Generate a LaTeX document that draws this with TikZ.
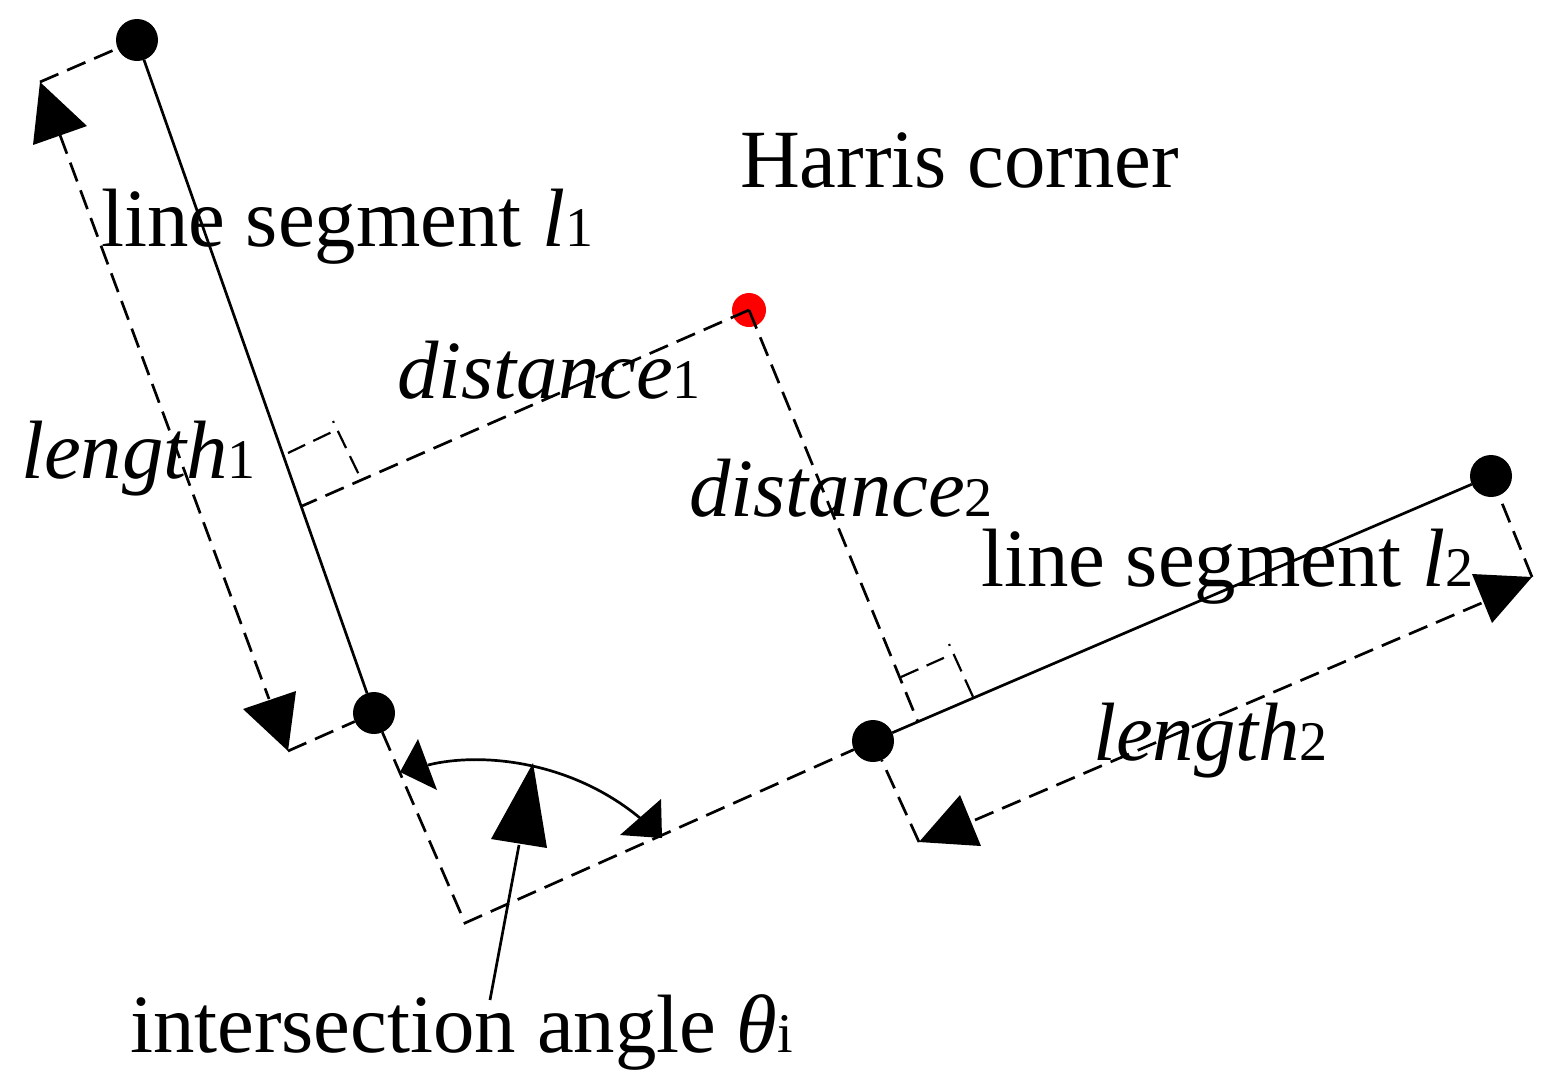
\documentclass[tikz,border=0pt]{standalone}
\usepackage{fontspec}
\setmainfont{Liberation Serif}
\newcommand{\lablarge}{\fontsize{41.4}{50}\selectfont}
\newcommand{\smalln}{\fontsize{28}{32}\selectfont}
\tikzset{
  lab/.style={anchor=base west,inner sep=0pt,outer sep=0pt,font=\lablarge},
  blackdot/.style={circle,fill=black,draw=none,minimum size=21pt,inner sep=0pt,outer sep=0pt},
  reddot/.style={circle,fill=red,draw=none,minimum size=17pt,inner sep=0pt,outer sep=0pt},
  seg/.style={draw=black,line width=1.35pt},
  dashline/.style={draw=black,line width=1.35pt,dash pattern=on 10pt off 4.75pt},
  thindash/.style={draw=black,line width=1.1pt,dash pattern=on 9.5pt off 4.5pt},
  thinphase/.style={draw=black,line width=1.1pt,dash pattern=on 9.5pt off 4.5pt,dash phase=8.5pt},
  head/.style={fill=black,draw=none},
}
\begin{document}
\begin{tikzpicture}[x=0.5pt,y=-0.5pt]
\useasboundingbox (0,0) rectangle (1551,1083);
% points
\node[blackdot] (a1) at (137,40) {};
\node[blackdot] (a2) at (374,713) {};
\node[blackdot] (b1) at (1491,476) {};
\node[blackdot] (b2) at (873,741) {};
\node[reddot] (r) at (749,310) {};
\coordinate (rc) at (749,310);
\coordinate (p1) at (40,82);
\coordinate (p2) at (288,751);
\coordinate (p3) at (919,842);
\coordinate (p4) at (1532,577);
\coordinate (v) at (465,923);
\coordinate (f1) at (302,506);
\coordinate (f2) at (918,722);
% solid segments
\draw[seg] (a1) -- (a2);
\draw[seg] (b1) -- (b2);
% dashed guides
\draw[dashline] (p1) -- (a1);
\draw[dashline] (p2) -- (a2);
\draw[dashline] (p4) -- (b1);
\draw[dashline] (p3) -- (b2);
\draw[dashline] (a2) -- (v) -- (b2);
\draw[dashline] (rc) -- (f1);
\draw[dashline] (rc) -- (f2);
% length arrows
\coordinate (l1a) at (60,135);
\coordinate (l1b) at (269,699);
\draw[dashline] (l1a) -- (l1b);
\fill[head] (p1) -- (33,145) -- (87,126) -- cycle;
\fill[head] (p2) -- (243,709) -- (296,691) -- cycle;
\coordinate (l2a) at (975,820);
\coordinate (l2b) at (1484,602);
\draw[dashline] (l2a) -- (l2b);
\fill[head] (p3) -- (960,795) -- (981,846) -- cycle;
\fill[head] (p4) -- (1472,574) -- (1492,623) -- cycle;
% right-angle marks
\coordinate (q1) at (288,453);
\coordinate (q2) at (334,431);
\coordinate (q3) at (333,421);
\coordinate (q4) at (361,479);
\draw[thindash] (q1) -- (q2);
\draw[thinphase] (q3) -- (q4);
\coordinate (s1) at (901,677);
\coordinate (s2) at (948,656);
\coordinate (s3) at (949,644);
\coordinate (s4) at (974,699);
\draw[thindash] (s1) -- (s2);
\draw[thinphase] (s3) -- (s4);
% angle arc
\coordinate (arcA) at (428,765);
\coordinate (arcB) at (640,818);
\draw[seg] (arcA) .. controls (480,752) and (570,760) .. (arcB);
\fill[head] (400,772) -- (418,739) -- (437,790) -- cycle;
\fill[head] (662,838) -- (620,835) -- (661,799) -- cycle;
% pointer
\coordinate (ptA) at (490,1000);
\coordinate (ptB) at (519,845);
\draw[seg] (ptA) -- (ptB);
\fill[head] (533,763) -- (491,839) -- (547,848) -- cycle;
% labels
\node[lab] (t1) at (740,187) {Harris corner};
\node[lab] (t2) at (101,246) {line segment \textit{l}{\smalln 1}};
\node[lab] (t3) at (397,398) {\textit{distance}{\smalln 1}};
\node[lab] (t4) at (21,478) {\textit{length}{\smalln 1}};
\node[lab] (t5) at (689,516) {\textit{distance}{\smalln 2}};
\node[lab] (t6) at (981,586) {line segment \textit{l}{\smalln 2}};
\node[lab] (t7) at (1093,760) {\textit{length}{\smalln 2}};
\node[lab] (t8) at (130,1052) {intersection angle \textit{θ}{\smalln i}};
\end{tikzpicture}
\end{document}
